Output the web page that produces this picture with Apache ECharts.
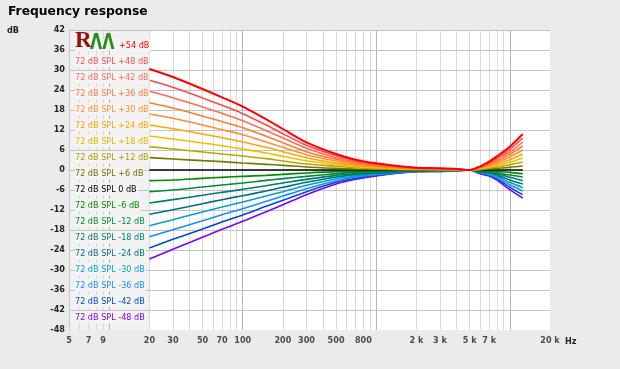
<!DOCTYPE html>
<html>
<head>
<meta charset="utf-8">
<script src="https://cdn.jsdelivr.net/npm/echarts@6/dist/echarts.min.js"></script>
<style>
html,body{margin:0;padding:0;background:#ebebeb;}
#chart{width:620px;height:369px;}
</style>
</head>
<body>
<div id="chart"></div>
<script>
// Frequencies (Hz) at which curves are sampled
const freqs = [20, 30, 50, 70, 100, 150, 200, 300, 500, 700, 1000, 1500, 2000, 3000, 4000, 5000, 6000, 7000, 8000, 10000, 12500];

// Relative response curves (dB) for 72 dB SPL at different offsets
const p54 = [30.3, 27.9, 24.3, 21.8, 19.0, 15.2, 12.3, 8.3, 4.8, 3.1, 2.0, 1.1, 0.7, 0.5, 0.3, 0.0, 1.1, 2.5, 4.1, 7.0, 10.8];
const p48 = [26.9, 24.8, 21.6, 19.4, 16.9, 13.5, 10.9, 7.4, 4.3, 2.8, 1.8, 1.0, 0.6, 0.4, 0.3, 0.0, 1.0, 2.2, 3.6, 6.2, 9.6];
const p42 = [23.6, 21.7, 18.9, 17.0, 14.8, 11.8, 9.6, 6.5, 3.7, 2.4, 1.6, 0.9, 0.5, 0.4, 0.2, 0.0, 0.9, 1.9, 3.2, 5.4, 8.4];
const p36 = [20.2, 18.6, 16.2, 14.5, 12.7, 10.1, 8.2, 5.5, 3.2, 2.1, 1.3, 0.7, 0.5, 0.3, 0.2, 0.0, 0.7, 1.7, 2.7, 4.7, 7.2];
const p30 = [16.8, 15.5, 13.5, 12.1, 10.6, 8.4, 6.8, 4.6, 2.7, 1.7, 1.1, 0.6, 0.4, 0.3, 0.2, 0.0, 0.6, 1.4, 2.3, 3.9, 6.0];
const p24 = [13.5, 12.4, 10.8, 9.7, 8.4, 6.8, 5.5, 3.7, 2.1, 1.4, 0.9, 0.5, 0.3, 0.2, 0.1, 0.0, 0.5, 1.1, 1.8, 3.1, 4.8];
const p18 = [10.2, 9.3, 8.1, 7.3, 6.3, 5.1, 4.1, 2.8, 1.6, 1.0, 0.7, 0.4, 0.2, 0.2, 0.1, 0.0, 0.4, 0.8, 1.4, 2.3, 3.6];
const p12 = [7.0, 6.3, 5.4, 4.8, 4.2, 3.4, 2.7, 1.8, 1.1, 0.7, 0.4, 0.2, 0.2, 0.1, 0.1, 0.0, 0.2, 0.6, 0.9, 1.6, 2.4];
const p6  = [3.7, 3.3, 2.8, 2.5, 2.1, 1.7, 1.4, 0.9, 0.5, 0.3, 0.2, 0.1, 0.1, 0.1, 0.0, 0.0, 0.1, 0.3, 0.5, 0.8, 1.2];
const z0  = [0, 0, 0, 0, 0, 0, 0, 0, 0, 0, 0, 0, 0, 0, 0, 0, 0, 0, 0, 0, 0];
const m6  = [-3.2, -3.0, -2.5, -2.2, -1.9, -1.6, -1.3, -0.9, -0.5, -0.4, -0.2, -0.1, -0.1, 0.0, 0.0, 0.0, -0.1, -0.2, -0.4, -0.7, -1.1];
const m12 = [-6.5, -6.0, -5.1, -4.5, -3.9, -3.1, -2.6, -1.9, -1.1, -0.7, -0.5, -0.2, -0.1, -0.1, -0.1, 0.0, -0.3, -0.5, -0.8, -1.5, -2.1];
const m18 = [-9.9, -8.9, -7.6, -6.7, -5.8, -4.7, -3.9, -2.8, -1.6, -1.1, -0.7, -0.3, -0.2, -0.2, -0.1, 0.0, -0.4, -0.7, -1.1, -2.2, -3.2];
const m24 = [-13.3, -11.9, -10.1, -8.9, -7.7, -6.3, -5.2, -3.7, -2.1, -1.4, -0.9, -0.5, -0.3, -0.2, -0.1, 0.0, -0.6, -0.9, -1.5, -3.0, -4.2];
const m30 = [-16.7, -14.9, -12.6, -11.1, -9.6, -7.8, -6.5, -4.6, -2.6, -1.8, -1.1, -0.6, -0.3, -0.3, -0.1, 0.0, -0.7, -1.1, -1.9, -3.7, -5.3];
const m36 = [-20.0, -17.9, -15.2, -13.4, -11.6, -9.4, -7.8, -5.6, -3.2, -2.1, -1.4, -0.7, -0.4, -0.3, -0.2, 0.0, -0.8, -1.4, -2.3, -4.4, -6.3];
const m42 = [-23.4, -20.8, -17.7, -15.6, -13.5, -10.9, -9.1, -6.5, -3.7, -2.5, -1.6, -0.8, -0.4, -0.4, -0.2, 0.0, -1.0, -1.6, -2.6, -5.2, -7.4];
const m48 = [-26.7, -23.8, -20.2, -17.8, -15.4, -12.5, -10.4, -7.4, -4.2, -2.8, -1.8, -0.9, -0.5, -0.4, -0.2, 0.0, -1.1, -1.8, -3.0, -5.9, -8.4];

const seriesNames = ['+54 dB', '72 dB SPL +48 dB', '72 dB SPL +42 dB', '72 dB SPL +36 dB', '72 dB SPL +30 dB',
  '72 dB SPL +24 dB', '72 dB SPL +18 dB', '72 dB SPL +12 dB', '72 dB SPL +6 dB', '72 dB SPL 0 dB',
  '72 dB SPL -6 dB', '72 dB SPL -12 dB', '72 dB SPL -18 dB', '72 dB SPL -24 dB', '72 dB SPL -30 dB',
  '72 dB SPL -36 dB', '72 dB SPL -42 dB', '72 dB SPL -48 dB'];
const seriesValues = [p54, p48, p42, p36, p30, p24, p18, p12, p6, z0, m6, m12, m18, m24, m30, m36, m42, m48];
const seriesColors = ['#ff0000', '#ff4a4a', '#ff6e50', '#ff7a36', '#ff9030', '#ffa50a', '#f0c000', '#b0aa00', '#787800', '#000000',
  '#008c00', '#008a3c', '#007c6c', '#006e8c', '#00a2cc', '#1a8cff', '#0048d0', '#8000ff'];
const textColors = ['#ff0000', '#ff4a4a', '#ff6e50', '#ff7a36', '#ff9030', '#ffa000', '#e8b400', '#a8a200', '#707000', '#000000',
  '#008c00', '#008a3c', '#007c6c', '#006e8c', '#00a2cc', '#1a8cff', '#0048d0', '#8000ff'];

// Axis tick labels
const xTickValues = [5, 7, 9, 20, 30, 50, 70, 100, 200, 300, 500, 800, 2000, 3000, 5000, 7000, 20000];
const xTickLabels = ['5', '7', '9', '20', '30', '50', '70', '100', '200', '300', '500', '800', '2 k', '3 k', '5 k', '7 k', '20 k'];
const minorGridFreqs = [6, 7, 8, 9, 20, 30, 40, 50, 60, 70, 80, 90, 200, 300, 400, 500, 600, 700, 800, 900,
  2000, 3000, 4000, 5000, 6000, 7000, 8000, 9000];
const majorGridFreqs = [10, 100, 1000, 10000];
const yGridValues = [-42, -36, -30, -24, -18, -12, -6, 0, 6, 12, 18, 24, 30, 36, 42];

const FONT = 'DejaVu Sans Condensed';

const chart = echarts.init(document.getElementById('chart'));

const curveSeries = [];
for (let i = seriesNames.length - 1; i >= 0; i--) {
  curveSeries.push({
    name: seriesNames[i],
    type: 'line',
    data: freqs.map((f, j) => [f, seriesValues[i][j]]),
    symbol: 'none',
    smooth: 0.3,
    lineStyle: { color: seriesColors[i], width: i === 0 ? 2 : 1.6 },
    itemStyle: { color: seriesColors[i] },
    z: 3,
    silent: true
  });
}

const option = {
  backgroundColor: '#ebebeb',
  animation: false,
  title: {
    text: 'Frequency response',
    left: 8, top: 6, padding: 0,
    textStyle: { fontFamily: 'DejaVu Sans', fontWeight: 'bold', fontSize: 12.3, color: '#000' }
  },
  grid: { left: 69, right: 70, top: 30, bottom: 39 },
  xAxis: {
    type: 'log', min: 5, max: 20000, logBase: 10,
    axisLine: { show: true, lineStyle: { color: '#b8b8b8' } },
    axisTick: { show: false },
    axisLabel: { show: false },
    splitLine: { show: false }
  },
  yAxis: {
    type: 'value', min: -48, max: 42, interval: 6,
    axisLine: { show: true, lineStyle: { color: '#c8c8c8' } },
    axisTick: { show: false },
    axisLabel: { margin: 4, fontFamily: FONT, fontWeight: 'bold', fontSize: 9, color: '#222' },
    splitLine: { show: false }
  },
  legend: {
    orient: 'vertical',
    left: 70, top: 39, padding: 0, z: 10,
    itemWidth: 0, itemHeight: 12, itemGap: 4,
    icon: 'none',
    align: 'left',
    selectedMode: false,
    formatter: function (name) { return name === '+54 dB' ? '{gap|}' + name : name; },
    textStyle: {
      fontFamily: FONT, fontSize: 9, lineHeight: 11, padding: [1, 1, 0, 0],
      backgroundColor: '#f4f4f4',
      rich: { gap: { width: 44 } }
    },
    data: seriesNames.map((n, i) => ({ name: n, textStyle: { color: textColors[i] } }))
  },
  graphic: [
    { type: 'text', left: 7, top: 26, style: { text: 'dB', font: 'bold 9px ' + FONT, fill: '#222' } },
    { type: 'text', left: 565, top: 337, style: { text: 'Hz', font: 'bold 9px ' + FONT, fill: '#222' } },
    { type: 'text', left: 75, top: 30, z: 100, style: { text: 'R', font: 'bold 23px Liberation Serif', fill: '#a00c0c' } },
    { type: 'text', x: 90, y: 32, scaleX: 0.72, z: 100, style: { text: 'ΛΛ', font: 'bold 22px DejaVu Sans', fill: '#2a8c1c' } }
  ],
  series: [
    {
      name: 'bg', type: 'line', data: [], z: 0, silent: true,
      markArea: {
        silent: true, z: 0,
        data: [
          [{ xAxis: 5, itemStyle: { color: '#f1f1f1' } }, { xAxis: 20 }],
          [{ xAxis: 20, itemStyle: { color: '#ffffff' } }, { xAxis: 20000 }]
        ]
      }
    },
    {
      name: 'xlabels', type: 'scatter', z: 1, silent: true,
      symbolSize: 0,
      data: xTickValues.map((v, i) => [v, -48, xTickLabels[i]]),
      label: {
        show: true, position: 'bottom', distance: 6,
        formatter: p => p.value[2],
        fontFamily: FONT, fontWeight: 'bold', fontSize: 9, color: '#222'
      },
      markLine: {
        silent: true, symbol: 'none', label: { show: false }, z: 1,
        lineStyle: { type: 'solid', color: '#dadada', width: 1 },
        data: minorGridFreqs.map(f => ({ xAxis: f }))
          .concat(majorGridFreqs.map(f => ({ xAxis: f, lineStyle: { color: '#b6b6b6', width: 1, type: 'solid' } })))
          .concat(yGridValues.map(v => ({ yAxis: v, lineStyle: { color: '#c4c4c4', width: 1, type: 'solid' } })))
      }
    }
  ].concat(curveSeries)
};

chart.setOption(option);
</script>
</body>
</html>
